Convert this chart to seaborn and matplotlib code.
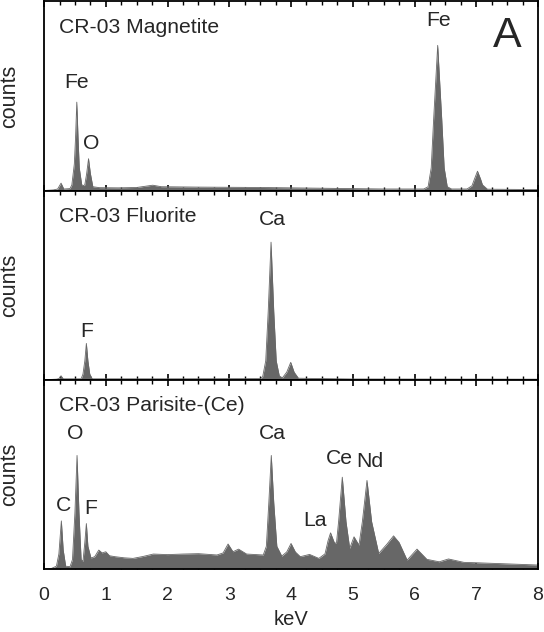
import matplotlib
matplotlib.use("Agg")
import matplotlib.pyplot as plt
import seaborn as sns
import numpy as np
from matplotlib.ticker import MultipleLocator

# spectra as (keV, counts on a 0-100 scale per panel)
magnetite_kev = [0.0, 0.15, 0.22, 0.275, 0.32, 0.42, 0.45, 0.49, 0.51, 0.53, 0.55, 0.57, 0.61,
                 0.64, 0.66, 0.69, 0.72, 0.75, 0.79, 0.9, 1.2, 1.5, 1.76, 1.9, 2.5, 3.5, 4.5,
                 5.5, 6.15, 6.22, 6.27, 6.31, 6.375, 6.44, 6.48, 6.53, 6.6, 6.85, 6.93, 6.97,
                 7.02, 7.07, 7.1, 7.18, 8.0]
magnetite_cts = [0, 0.3, 0.8, 3.9, 0.8, 1.0, 3, 14, 28, 46.7, 28, 12, 3,
                 2.6, 3, 9, 16.8, 9, 2, 1.5, 1.4, 1.6, 2.8, 2.0, 1.8, 1.6, 1.2,
                 0.8, 0.8, 2, 12, 38, 76.7, 38, 12, 2, 0.8, 0.8, 2.5, 6,
                 10.2, 6, 3, 0.7, 0.5]

fluorite_kev = [0.0, 0.2, 0.24, 0.275, 0.31, 0.6, 0.63, 0.66, 0.685, 0.71, 0.74, 0.78, 2.0,
                3.5, 3.54, 3.59, 3.63, 3.676, 3.72, 3.76, 3.81, 3.86, 3.93, 3.995, 4.05,
                4.12, 5.0, 8.0]
fluorite_cts = [0, 0.3, 0.6, 2.1, 0.5, 0.5, 3, 10, 19.2, 10, 3, 0.5, 0.5,
                0.6, 1.5, 10, 36, 72.7, 36, 10, 2, 1, 4, 9.2, 4,
                0.8, 0.4, 0.3]

parisite_kev = [0.0, 0.12, 0.2, 0.24, 0.28, 0.31, 0.35, 0.42, 0.46, 0.5, 0.534, 0.565, 0.6,
                0.63, 0.66, 0.685, 0.71, 0.76, 0.82, 0.886, 0.94, 1.0, 1.06, 1.15, 1.3, 1.44,
                1.6, 1.77, 2.0, 2.25, 2.5, 2.8, 2.9, 2.98, 3.06, 3.15, 3.28, 3.55, 3.6, 3.64,
                3.68, 3.72, 3.77, 3.85, 3.93, 4.0, 4.07, 4.15, 4.3, 4.45, 4.55, 4.6, 4.64,
                4.7, 4.735, 4.77, 4.83, 4.89, 4.95, 5.02, 5.1, 5.155, 5.23, 5.305, 5.42,
                5.55, 5.66, 5.75, 5.88, 6.04, 6.2, 6.4, 6.55, 6.8, 7.0, 7.5, 8.0]
parisite_cts = [0, 0.3, 1.5, 8, 25.4, 10, 1.5, 1.2, 5, 30, 60, 30, 5,
                4, 14, 24, 12, 5.8, 6.5, 10, 8.5, 9.1, 7, 6.5, 5.9, 5.6,
                6.6, 7.9, 7.6, 7.9, 8.1, 7.4, 8.5, 13.2, 9.1, 10.5, 7.9, 7.4, 12, 35,
                60, 35, 12, 6.8, 9, 13.5, 9, 6.5, 7.7, 5.6, 8, 15, 19.1,
                14, 13.5, 25, 48.5, 25, 10.9, 17, 12.6, 25, 46.8, 25, 8.2,
                13, 17.5, 14, 4.7, 10.5, 5.1, 3.8, 5.3, 3.5, 3.3, 2.7, 2.1]

titles = ["CR-03 Magnetite", "CR-03 Fluorite", "CR-03 Parisite-(Ce)"]

# peak labels: (text, keV, baseline height)
magnetite_labels = [("Fe", 0.52, 54.3), ("O", 0.77, 21.7), ("Fe", 6.39, 86.8)]
fluorite_labels = [("F", 0.69, 22.4), ("Ca", 3.69, 81.8)]
parisite_labels = [("C", 0.31, 30.7), ("O", 0.51, 68.8), ("F", 0.76, 28.9), ("Ca", 3.69, 68.8),
                   ("La", 4.38, 22.8), ("Ce", 4.79, 55.6), ("Nd", 5.28, 53.8)]

sns.set_theme(style="ticks")
plt.rcParams['font.family'] = ['Liberation Sans', 'DejaVu Sans']

fig, axes = plt.subplots(3, 1, figsize=(5.44, 6.32), dpi=100, sharex=True)
fig.subplots_adjust(left=0.081, right=0.989, bottom=0.0997, top=0.998, hspace=0)

spectra = [(magnetite_kev, magnetite_cts, magnetite_labels),
           (fluorite_kev, fluorite_cts, fluorite_labels),
           (parisite_kev, parisite_cts, parisite_labels)]
fill = "#676767"

for ax, (kev, cts, labels), title in zip(axes, spectra, titles):
    sns.lineplot(x=kev, y=cts, ax=ax, color=fill, linewidth=0.6)
    ax.fill_between(kev, cts, 0, color=fill, linewidth=0)
    ax.set_xlim(0, 8)
    ax.set_ylim(0, 100)
    ax.set_yticks([])
    ax.set_ylabel("counts", fontsize=15.5, labelpad=17)
    ax.xaxis.set_major_locator(MultipleLocator(1))
    ax.xaxis.set_minor_locator(MultipleLocator(0.25))
    ax.tick_params(axis="x", which="major", direction="in", top=True, bottom=True,
                   length=4.5, width=1.2, labelsize=14, pad=13, color="black")
    ax.tick_params(axis="x", which="minor", direction="in", top=True, bottom=True,
                   length=3, width=1.0, color="black")
    for s in ax.spines.values():
        s.set_linewidth(1.3)
        s.set_color("black")
    ax.text(0.243, 83.4, title, fontsize=15.2, ha="left", va="baseline")
    for txt, x, y in labels:
        ax.text(x, y, txt, fontsize=15.2, ha="center", va="baseline")

axes[0].text(7.5, 75.8, "A", fontsize=31, ha="center", va="baseline")
axes[2].set_xlabel("keV", fontsize=14.5, labelpad=4)

fig.savefig("out.png", dpi=100)
